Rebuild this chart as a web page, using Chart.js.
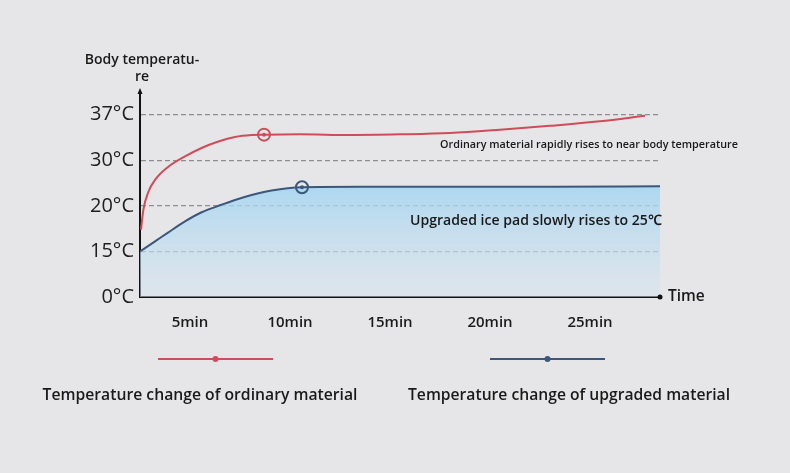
<!DOCTYPE html>
<html>
<head>
<meta charset="utf-8">
<script src="https://cdn.jsdelivr.net/npm/chart.js@4.4.0/dist/chart.umd.min.js"></script>
<style>
    html, body { margin: 0; padding: 0; background: #e6e6e8; }
    #wrap { width: 790px; height: 473px; position: relative; }
</style>
</head>
<body>
<div id="wrap"><canvas id="canvas_temp"></canvas></div>
<script>
// y axis is drawn with evenly spaced labels, not a true linear scale
const tempTicks = [0, 15, 20, 30, 37];
const tempLabels = ['0°C', '15°C', '20°C', '30°C', '37°C'];
const timeTicks = [5, 10, 15, 20, 25];

// ordinary material (red)
const ordinaryMin  = [2.55, 2.67, 2.92, 3.25, 3.92, 4.75, 5.58, 6.42, 7.25, 8.08, 8.7, 10.5, 13, 15.5, 18, 20.5, 23, 25.5, 27.75];
const ordinaryTemp = [17.4, 19.6, 23.1, 25.7, 28.6, 30.6, 31.9, 32.9, 33.6, 33.9, 33.95, 34.0, 33.9, 34.0, 34.2, 34.7, 35.3, 36.0, 36.85];
const ordinaryMark = 10;

// upgraded material (blue)
const upgradedMin  = [2.5, 3.25, 3.92, 4.75, 5.58, 6.42, 7.25, 8.08, 9.08, 10.6, 13.5, 18, 23, 28.5];
const upgradedTemp = [15.0, 16.1, 17.1, 18.3, 19.3, 20.0, 21.3, 22.4, 23.4, 24.1, 24.2, 24.2, 24.2, 24.3];
const upgradedMark = 9;

const redColor = '#cf4c58';
const blueColor = '#3b587c';
const textColor = '#1a1a1a';
const fontName = '"Open Sans", "Noto Sans", sans-serif';

// temperature -> position on the evenly spaced axis
function toPos(t){
    for(let i = 0; i < tempTicks.length - 1; i++){
        if(t <= tempTicks[i + 1]){
            return i + (t - tempTicks[i]) / (tempTicks[i + 1] - tempTicks[i]);
        }
    }
    let n = tempTicks.length - 1;
    return n + (t - tempTicks[n]) / (tempTicks[n] - tempTicks[n - 1]);
}

function montarPontos(xs, ys){
    let pontos = [];
    for(let i = 0; i < xs.length; i++){
        pontos.push({ x: xs[i], y: toPos(ys[i]) });
    }
    return pontos;
}

function raios(n, mark){
    let r = [];
    for(let i = 0; i < n; i++){
        r.push(i == mark ? 6 : 0);
    }
    return r;
}

const decoracao = {
    id: 'decoracao',
    beforeDraw(chart){
        const ctx = chart.ctx;
        ctx.save();
        ctx.fillStyle = '#e6e6e8';
        ctx.fillRect(0, 0, chart.width, chart.height);
        ctx.restore();
    },
    afterDraw(chart){
        const ctx = chart.ctx;
        const area = chart.chartArea;
        ctx.save();

        // arrow on y axis, dot on x axis
        ctx.fillStyle = '#111';
        ctx.beginPath();
        ctx.moveTo(area.left, area.top - 4);
        ctx.lineTo(area.left - 2.5, area.top + 2);
        ctx.lineTo(area.left + 2.5, area.top + 2);
        ctx.closePath();
        ctx.fill();
        ctx.beginPath();
        ctx.arc(area.right, area.bottom, 2.5, 0, Math.PI * 2);
        ctx.fill();

        // inner dots of the markers
        const marks = [ordinaryMark, upgradedMark];
        const cores = [redColor, blueColor];
        for(let d = 0; d < 2; d++){
            const p = chart.getDatasetMeta(d).data[marks[d]];
            ctx.fillStyle = cores[d];
            ctx.beginPath();
            ctx.arc(p.x, p.y, 2, 0, Math.PI * 2);
            ctx.fill();
        }

        ctx.fillStyle = textColor;
        ctx.textBaseline = 'middle';

        // axis titles
        ctx.textAlign = 'center';
        ctx.font = '600 14px ' + fontName;
        ctx.fillText('Body temperatu-', 142, 60);
        ctx.fillText('re', 142, 77);
        ctx.textAlign = 'left';
        ctx.font = '600 15.5px ' + fontName;
        ctx.fillText('Time', 668, 297);

        // notes
        ctx.font = '600 11px ' + fontName;
        ctx.fillText('Ordinary material rapidly rises to near body temperature', 440, 145, 298);
        ctx.font = '600 14.5px ' + fontName;
        ctx.fillText('Upgraded ice pad slowly rises to 25℃', 410, 221, 252);

        // legend
        const itens = [
            { cor: redColor, x1: 158, x2: 273, label: 'Temperature change of ordinary material', cx: 200, w: 315 },
            { cor: blueColor, x1: 490, x2: 605, label: 'Temperature change of upgraded material', cx: 569, w: 322 },
        ];
        for(let item of itens){
            ctx.strokeStyle = item.cor;
            ctx.lineWidth = 2;
            ctx.beginPath();
            ctx.moveTo(item.x1, 359);
            ctx.lineTo(item.x2, 359);
            ctx.stroke();
            ctx.fillStyle = item.cor;
            ctx.beginPath();
            ctx.arc((item.x1 + item.x2) / 2, 359, 3, 0, Math.PI * 2);
            ctx.fill();
            ctx.fillStyle = textColor;
            ctx.textAlign = 'center';
            ctx.font = '600 16.5px ' + fontName;
            ctx.fillText(item.label, item.cx, 395, item.w);
        }
        ctx.restore();
    }
};

new Chart(document.getElementById('canvas_temp'), {
    type: 'line',
    data: {
        datasets: [{
            label: 'Temperature change of ordinary material',
            data: montarPontos(ordinaryMin, ordinaryTemp),
            borderColor: redColor,
            borderWidth: 2,
            cubicInterpolationMode: 'monotone',
            pointRadius: raios(ordinaryMin.length, ordinaryMark),
            pointBorderWidth: 2,
            pointBorderColor: redColor,
            pointBackgroundColor: 'rgba(0,0,0,0)',
            fill: false,
        }, {
            label: 'Temperature change of upgraded material',
            data: montarPontos(upgradedMin, upgradedTemp),
            borderColor: blueColor,
            borderWidth: 2,
            cubicInterpolationMode: 'monotone',
            pointRadius: raios(upgradedMin.length, upgradedMark),
            pointBorderWidth: 2,
            pointBorderColor: blueColor,
            pointBackgroundColor: 'rgba(0,0,0,0)',
            fill: 'origin',
            backgroundColor: function(context){
                const area = context.chart.chartArea;
                if(!area){
                    return 'rgba(170,215,240,0.7)';
                }
                const g = context.chart.ctx.createLinearGradient(0, area.top + 90, 0, area.bottom);
                g.addColorStop(0, 'rgba(160,212,242,0.85)');
                g.addColorStop(1, 'rgba(215,228,238,0.5)');
                return g;
            },
        }],
    },
    options: {
        responsive: true,
        maintainAspectRatio: false,
        animation: false,
        events: [],
        layout: {
            padding: { left: 0, top: 92, right: 130, bottom: 0 },
        },
        scales: {
            x: {
                type: 'linear',
                min: 2.5,
                max: 28.5,
                afterBuildTicks: (scale) => { scale.ticks = timeTicks.map(v => ({ value: v })); },
                afterFit: (scale) => { scale.height = 176; },
                grid: { display: false },
                border: { color: '#111', width: 2 },
                ticks: {
                    padding: 9,
                    color: textColor,
                    font: { family: fontName, size: 15, weight: '600' },
                    callback: (v) => v + 'min',
                },
            },
            y: {
                type: 'linear',
                min: 0,
                max: 4.5,
                afterBuildTicks: (scale) => { scale.ticks = tempTicks.map((t, i) => ({ value: i })); },
                afterFit: (scale) => { scale.width = 140; },
                grid: {
                    color: '#8e8e8e',
                    lineWidth: 1.3,
                    drawTicks: false,
                },
                // in v4 border.dash styles the grid lines, the axis line stays solid
                border: { color: '#111', width: 2, dash: [5, 3] },
                ticks: {
                    padding: 6,
                    color: '#1e1e1e',
                    font: { family: fontName, size: 20, weight: '500' },
                    callback: (v) => tempLabels[v],
                },
            },
        },
        plugins: {
            legend: { display: false },
            tooltip: { enabled: false },
        },
    },
    plugins: [decoracao],
});
</script>
</body>
</html>
